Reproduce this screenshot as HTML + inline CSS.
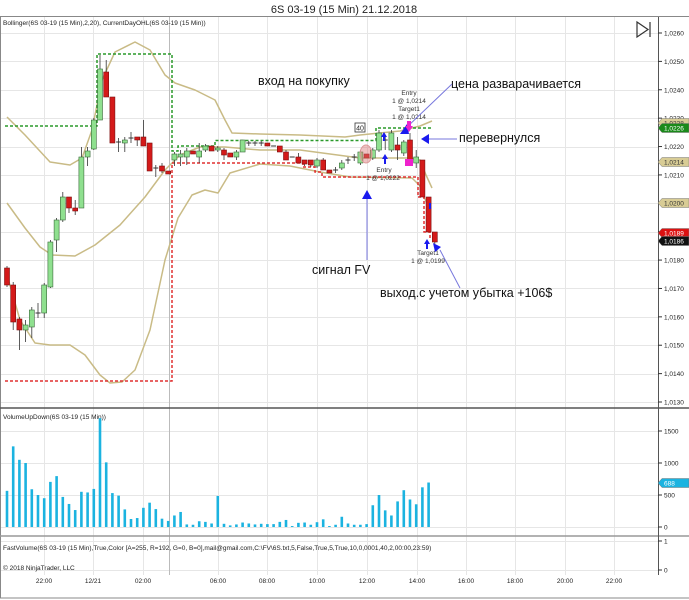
<!DOCTYPE html>
<html><head><meta charset="utf-8"><style>
body{margin:0;background:#fff;}
svg{display:block;font-family:"Liberation Sans","DejaVu Sans",sans-serif;}
</style></head><body>
<svg id="s" width="689" height="600" viewBox="0 0 689 600" xmlns="http://www.w3.org/2000/svg">
<rect width="689" height="600" fill="#fff"/>
<text x="344" y="13" font-size="11" text-anchor="middle" fill="#222">6S 03-19 (15 Min)  21.12.2018</text>
<line x1="0" y1="16.5" x2="689" y2="16.5" stroke="#888"/>
<line x1="0.5" y1="16" x2="0.5" y2="598" stroke="#888"/>
<line x1="0" y1="598" x2="689" y2="598" stroke="#888"/>
<g id="grid" stroke="#e6e6e6" stroke-width="1"></g>
<line x1="169.5" y1="17" x2="169.5" y2="575" stroke="#bbb"/>
<line x1="0" y1="408" x2="689" y2="408" stroke="#555" stroke-width="1.5"/>
<line x1="0" y1="536" x2="689" y2="536" stroke="#999" stroke-width="1.5"/>
<line x1="658.5" y1="17" x2="658.5" y2="575" stroke="#555"/>
<text x="3" y="25" font-size="6.5" fill="#222">Bollinger(6S 03-19 (15 Min),2,20), CurrentDayOHL(6S 03-19 (15 Min))</text>
<text x="3" y="419" font-size="6.5" fill="#222">VolumeUpDown(6S 03-19 (15 Min))</text>
<text x="3" y="550" font-size="6.5" fill="#222">FastVolume(6S 03-19 (15 Min),True,Color [A=255, R=192, G=0, B=0],mail@gmail.com,C:\FV\6S.txt,5,False,True,5,True,10,0,0001,40,2,00:00,23:59)</text>
<text x="3" y="570" font-size="6.5" fill="#222">© 2018 NinjaTrader, LLC</text>
<path d="M637 22 L648 29.5 L637 37 Z M650 22 V37" fill="none" stroke="#333" stroke-width="1.2"/>
<g id="bands" fill="none" stroke="#c9bb86" stroke-width="1.5" stroke-linejoin="round"></g>
<g id="ohl" fill="none" stroke-width="1.5" stroke-dasharray="3,2"></g>
<g id="candles"></g>
<g id="vol" fill="#1bb3e0"></g>
<g id="axis" font-size="6.5" fill="#222"></g>
<ellipse cx="366" cy="154" rx="6" ry="9" fill="rgba(220,120,120,0.45)" stroke="#d99"/>
<rect x="355" y="123" width="10" height="9" fill="#fff" stroke="#333" stroke-width="0.8"/>
<text x="360" y="130.5" font-size="7" text-anchor="middle" fill="#222">40</text>
<g font-size="6.5" fill="#333" text-anchor="middle">
<text x="409" y="95">Entry</text><text x="409" y="103">1 @ 1,0214</text>
<text x="409" y="111">Target1</text><text x="409" y="119">1 @ 1,0214</text>
<text x="384" y="172">Entry</text><text x="383" y="180">1 @ 1,0222</text>
<text x="428" y="255">Target1</text><text x="428" y="263">1 @ 1,0199</text>
</g>
<g font-size="12.5" fill="#111">
<text x="258" y="85">вход на покупку</text>
<text x="451" y="88">цена разварачивается</text>
<text x="459" y="142">перевернулся</text>
<text x="312" y="274">сигнал FV</text>
<text x="380" y="297">выход.с учетом убытка +106$</text>
</g>
<g stroke="#7777dd" stroke-width="1">
<line x1="452" y1="84" x2="406" y2="128"/>
<line x1="457" y1="139" x2="428" y2="139"/>
<line x1="367" y1="260" x2="367" y2="197"/>
<line x1="460" y1="288" x2="440" y2="250"/>
</g>
<g fill="#1a1aee">
<polygon points="400,134 407,124 409,134"/>
<polygon points="421,139 429,134 429,144"/>
<polygon points="367,190 362,199 372,199"/>
<polygon points="433,243 441,247 435,252"/>
<polygon points="385,154 382,159 388,159"/><rect x="384" y="159" width="2" height="5"/>
<polygon points="427,239 424,244 430,244"/><rect x="426" y="244" width="2" height="5"/>
<polygon points="384,132 381,137 387,137"/><rect x="383" y="137" width="2" height="4"/>
<rect x="429" y="203" width="2" height="6"/>
</g>
<g fill="#ee22cc">
<polygon points="409,132 405,126 413,126"/><rect x="407" y="121" width="4" height="5"/>
<rect x="405" y="159" width="8" height="7"/>
</g>
</svg>
<script>
const s=document.getElementById('s');const NS='http://www.w3.org/2000/svg';
function el(p,t,a){const e=document.createElementNS(NS,t);for(const k in a)e.setAttribute(k,a[k]);p.appendChild(e);return e;}
const grid=document.getElementById('grid');
const yp=p=>33+(1.026-p)*28385;
for(let i=0;i<14;i++){const y=Math.round(yp(1.026-i*0.001))+0.5;el(grid,'line',{x1:1,y1:y,x2:658,y2:y});}
[431,463,495,527].forEach(y=>el(grid,'line',{x1:1,y1:y+0.5,x2:658,y2:y+0.5}));
[541,570].forEach(y=>el(grid,'line',{x1:1,y1:y+0.5,x2:658,y2:y+0.5}));
const tx=[[44,'22:00'],[93,'12/21'],[143,'02:00'],[218,'06:00'],[267,'08:00'],[317,'10:00'],[367,'12:00'],[417,'14:00'],[466,'16:00'],[515,'18:00'],[565,'20:00'],[614,'22:00']];
tx.forEach(t=>el(grid,'line',{x1:t[0]+0.5,y1:17,x2:t[0]+0.5,y2:575}));
const ax=document.getElementById('axis');
function txt(x,y,t,a){const e=el(ax,'text',Object.assign({x:x,y:y},a||{}));e.textContent=t;}
tx.forEach(t=>txt(t[0],583,t[1],{'text-anchor':'middle'}));
for(let i=0;i<14;i++){const y=yp(1.026-i*0.001);el(ax,'line',{x1:658,y1:y,x2:662,y2:y,stroke:'#333'});txt(664,y+2.5,(1.026-i*0.001).toFixed(4).replace('.',','));}
[[431,'1500'],[463,'1000'],[495,'500'],[527,'0']].forEach(a=>{el(ax,'line',{x1:658,y1:a[0],x2:662,y2:a[0],stroke:'#333'});txt(664,a[0]+2.5,a[1]);});
[[541,'1'],[570,'0']].forEach(a=>{el(ax,'line',{x1:658,y1:a[0],x2:662,y2:a[0],stroke:'#333'});txt(664,a[0]+2.5,a[1]);});
function tag(y,t,bg,fg){el(ax,'polygon',{points:`658,${y} 662,${y-4.5} 689,${y-4.5} 689,${y+4.5} 662,${y+4.5}`,fill:bg,stroke:'#777','stroke-width':0.5});txt(664,y+2.5,t,{fill:fg});}
tag(123,'1,0228','#d8cc95','#333');tag(128,'1,0226','#1a8a1a','#fff');tag(162,'1,0214','#d8cc95','#333');tag(203,'1,0200','#d8cc95','#333');tag(233,'1,0189','#dd1111','#fff');tag(241,'1,0186','#111','#fff');tag(483,'688','#1bb3e0','#fff');
const bands=document.getElementById('bands');
function poly(pts){return 'M'+pts.map(p=>p.join(',')).join(' L');}
el(bands,'path',{d:poly([[7,117],[25,135],[50,162],[70,165],[82,158],[92,130],[102,80],[115,52],[135,42],[150,50],[165,75],[175,83],[195,90],[215,100],[225,120],[232,133],[260,134],[300,135],[345,137],[360,135],[400,131],[420,126],[432,121]])});
el(bands,'path',{d:poly([[7,203],[25,228],[40,247],[52,255],[75,256],[95,245],[120,225],[145,197],[165,170],[180,155],[200,147],[225,147],[260,150],[300,150],[330,154],[360,158],[410,158],[420,160],[426,175],[432,188]])});
el(bands,'path',{d:poly([[7,275],[20,320],[35,343],[50,345],[70,345],[85,355],[100,375],[110,383],[122,382],[135,370],[150,330],[165,260],[178,218],[192,195],[205,190],[218,193],[230,173],[260,164],[290,166],[320,172],[350,177],[412,178],[420,186],[430,212]])});
const ohl=document.getElementById('ohl');
el(ohl,'path',{d:'M5,126 H97 V54 H172 V151 H178 V146 H215 V140.5 H376 V128 H432',stroke:'#2a9a2a'});
el(ohl,'path',{d:'M5,381 H172 V163 H303 V167 H315 V172 H322 V177 H418 V197 H424 V232 H430 V240',stroke:'#e03030'});
const C=[['r',268,285,266,287],['r',285,322,282,330],['r',319,330,317,350],['g',325,330,320,342],['g',310,327,307,338],['d',313,313,303,318],['g',285,313,283,318],['g',242,287,240,288],['g',220,240,218,252],['g',197,220,192,222],['r',197,208,197,213],['r',208,211,200,215],['g',157,208,147,208],['g',151,157,147,166],['g',120,149,118,150],['g',69,120,55,120],['r',72,97,60,97],['r',97,143,97,143],['d',142,142,138,152],['g',140,143,137,152],['d',138,138,132,143],['r',137,140,137,146],['r',137,146,120,146],['r',143,171,143,171],['d',168,168,165,177],['r',166,171,163,173],['r',171,174,171,174],['g',154,160,152,166],['g',154,157,150,166],['g',151,157,148,165],['r',151,154,151,154],['g',151,157,143,163],['g',146,150,144,152],['r',146,151,146,151],['g',148,150,146,152],['r',150,155,148,160],['r',153,157,153,157],['g',152,157,150,160],['g',140,152,140,152],['d',143,143,141,146],['d',143,143,141,146],['d',143,143,141,146],['r',143,146,143,146],['d',146,146,146,146],['r',146,152,146,152],['r',152,160,150,160],['d',157,157,157,157],['r',157,163,153,163],['r',160,164,160,166],['r',160,165,160,167],['g',160,166,158,168],['r',160,170,158,170],['r',170,173,170,173],['d',170,170,167,173],['g',163,168,160,170],['d',160,160,157,164],['d',157,157,154,161],['g',152,163,150,165],['r',154,158,154,158],['g',150,158,148,160],['g',133,150,130,152],['d',140,140,135,150],['g',133,150,130,152],['r',145,150,137,160],['g',142,153,140,156],['r',140,160,133,165],['g',157,163,150,168],['r',160,197,160,197],['r',197,232,197,232],['r',232,242,232,244]];
const cg=document.getElementById('candles');
const V=[565,1260,1050,1000,590,500,450,705,795,470,360,265,550,540,595,1700,1010,530,490,275,125,140,300,380,280,130,95,180,235,40,35,90,80,55,485,50,25,40,70,55,40,50,45,45,80,110,15,65,70,35,75,120,15,35,160,55,35,35,45,340,500,260,180,400,575,430,355,620,695,0];
const vg=document.getElementById('vol');
C.forEach((c,i)=>{const x=7+i*6.2;
el(cg,'line',{x1:x,y1:c[3],x2:x,y2:c[4],stroke:'#333','stroke-width':0.8});
if(c[0]=='d'){el(cg,'line',{x1:x-2.5,y1:c[1],x2:x+2.5,y2:c[1],stroke:'#333','stroke-width':1});}
else el(cg,'rect',{x:x-2.5,y:c[1],width:5,height:Math.max(c[2]-c[1],1.5),fill:c[0]=='g'?'#8fe08f':'#d41a1a',stroke:c[0]=='g'?'#3a6a3a':'#7a1010','stroke-width':0.6});
const h=V[i]*0.064;if(h>0)el(vg,'rect',{x:x-1.3,y:527-h,width:2.6,height:h});
});
</script>
</body></html>
